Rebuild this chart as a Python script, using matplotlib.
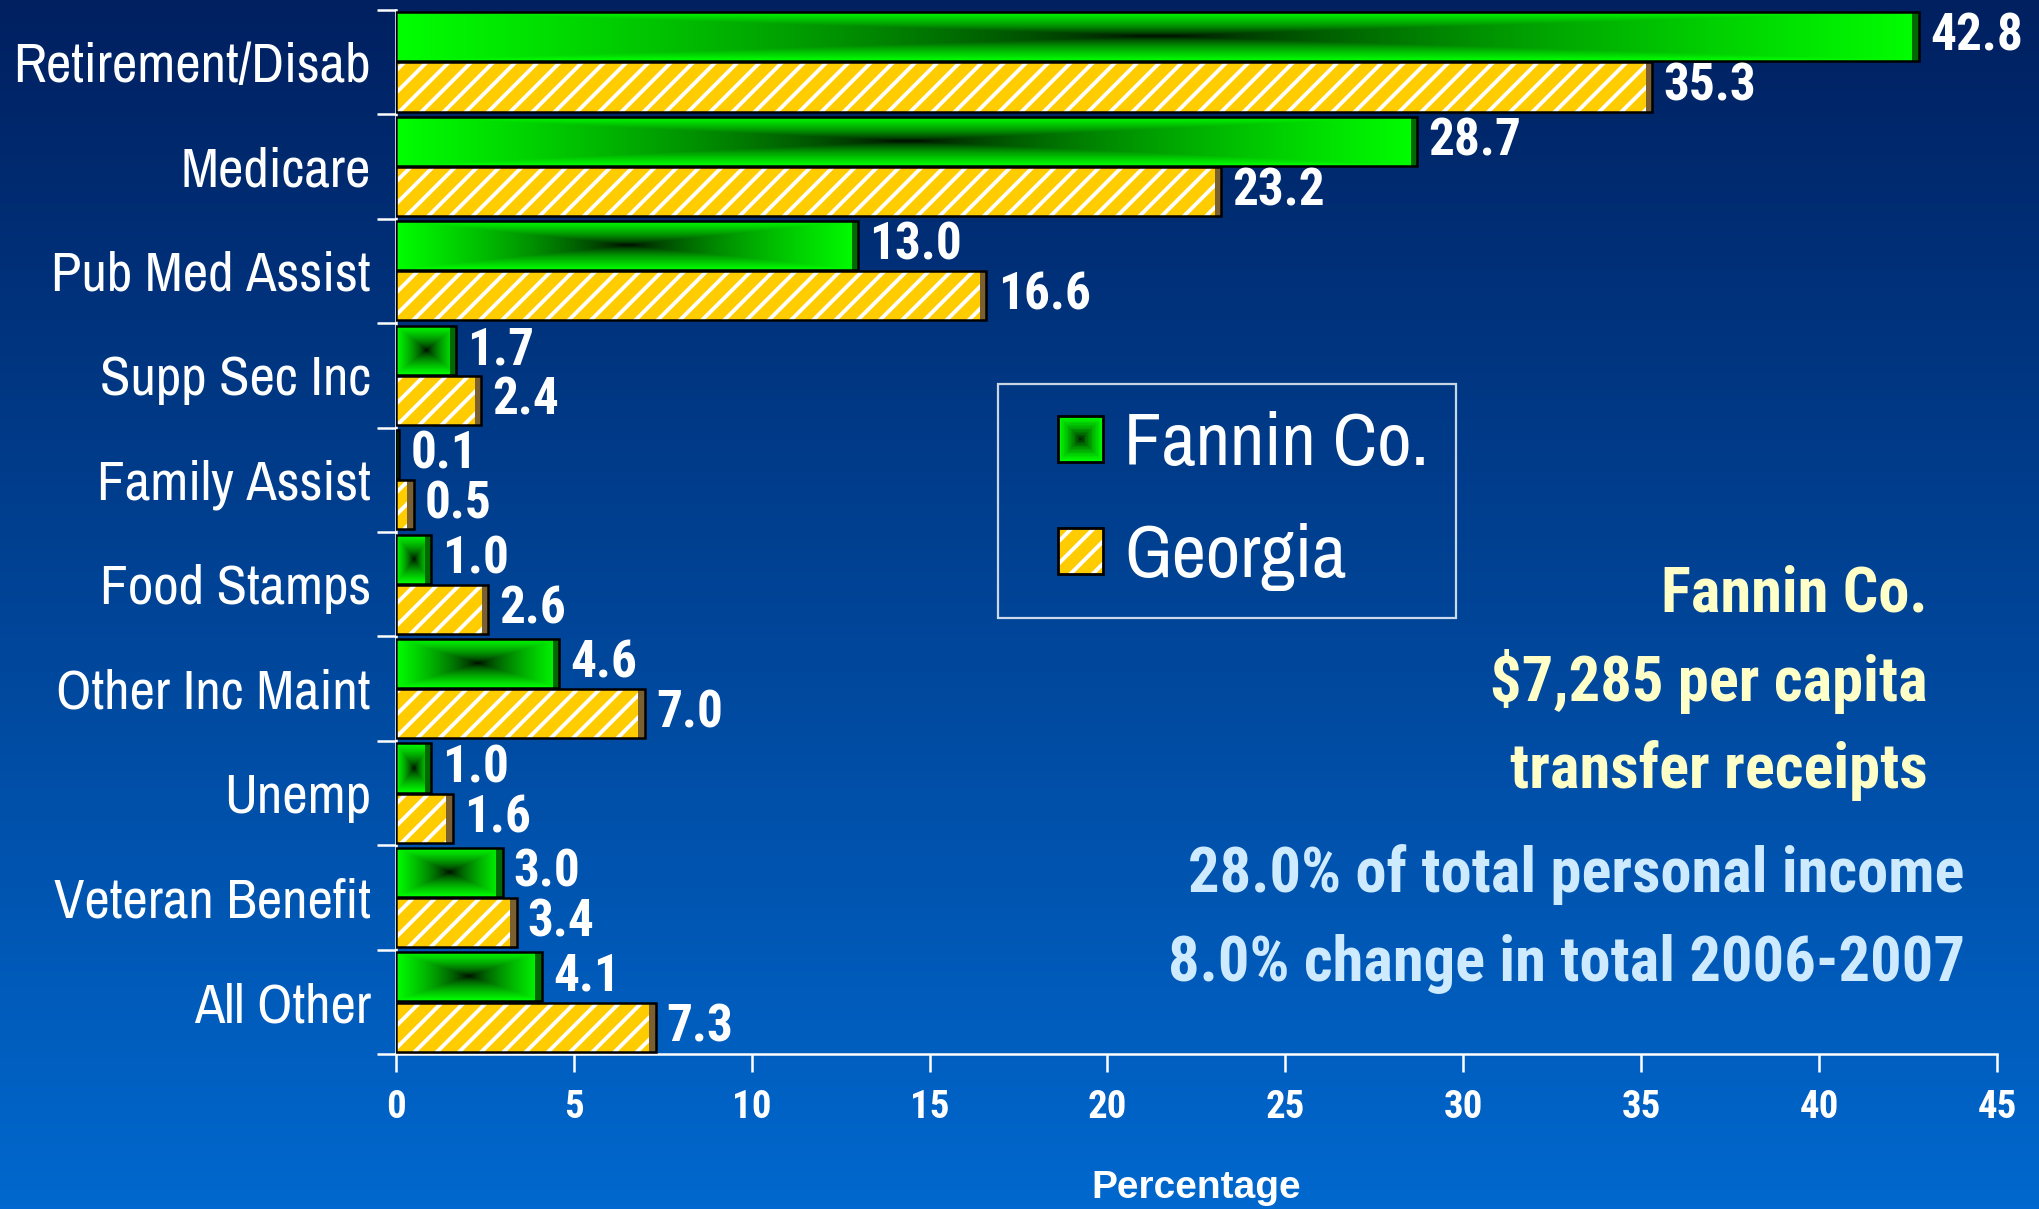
import numpy as np
import matplotlib
matplotlib.use("Agg")
import matplotlib.pyplot as plt
from matplotlib import font_manager as fm
from matplotlib.patches import Rectangle, Patch
from matplotlib.legend_handler import HandlerBase

# data
categories = ['Retirement/Disab', 'Medicare', 'Pub Med Assist', 'Supp Sec Inc',
              'Family Assist', 'Food Stamps', 'Other Inc Maint', 'Unemp',
              'Veteran Benefit', 'All Other']
fannin = [42.8, 28.7, 13.0, 1.7, 0.1, 1.0, 4.6, 1.0, 3.0, 4.1]
georgia = [35.3, 23.2, 16.6, 2.4, 0.5, 2.6, 7.0, 1.6, 3.4, 7.3]
series_names = ['Fannin Co.', 'Georgia']
xticks = [0, 5, 10, 15, 20, 25, 30, 35, 40, 45]

NARROW_CANDS = ['Liberation Sans Narrow', 'Arial Narrow', 'Archivo Narrow',
                'Roboto Condensed', 'PT Sans Narrow', 'IBM Plex Sans Condensed',
                'Open Sans Condensed']


def is_bold(w):
    if isinstance(w, str):
        return w in ('bold', 'heavy', 'black', 'extra bold', 'demibold')
    return w >= 700


def pick(cands, bold=False):
    for c in cands:
        ws = [f.weight for f in fm.fontManager.ttflist if f.name == c]
        if ws and (not bold or any(is_bold(w) for w in ws)):
            return [c, 'DejaVu Sans']
    return ['DejaVu Sans']


NARROW = pick(NARROW_CANDS)
NARROW_B = pick(NARROW_CANDS, bold=True)
WIDE_B = pick(['Liberation Sans', 'Arimo', 'Arial'], bold=True)
GOLD = '#ffcc00'
plt.rcParams['hatch.linewidth'] = 1.4


def rect_gradient(nx, ny):
    u = np.abs(np.linspace(-1, 1, nx))
    v = np.abs(np.linspace(-1, 1, ny))
    t = np.maximum(u[None, :], v[:, None]) ** 0.65
    img = np.zeros((ny, nx, 3))
    img[..., 1] = t
    return img


class SwatchHandler(HandlerBase):
    def create_artists(self, legend, orig_handle, xdescent, ydescent,
                       width, height, fontsize, trans):
        s = height
        x0, y0 = -xdescent + width - s, -ydescent
        arts = []
        if orig_handle.get_label() == 'green':
            steps = 16
            for k in range(steps):
                f = 1 - k / steps
                d = s * (1 - f) / 2
                arts.append(Rectangle((x0 + d, y0 + d), s * f, s * f,
                                      facecolor=(0, f ** 0.65, 0), lw=0,
                                      transform=trans))
        else:
            arts.append(Rectangle((x0, y0), s, s, facecolor=GOLD,
                                  edgecolor='white', hatch='///', lw=0,
                                  transform=trans))
        arts.append(Rectangle((x0, y0), s, s, facecolor='none',
                              edgecolor='black', lw=1.0, transform=trans))
        return arts


fig = plt.figure(figsize=(10.2, 6.045), dpi=200)

# background gradient
bg = fig.add_axes([0, 0, 1, 1], zorder=-10)
grad = np.linspace(0, 1, 256)[:, None, None]
top = np.array([0, 32, 96]) / 255
bot = np.array([0, 104, 206]) / 255
bg.imshow(top + (bot - top) * grad, aspect='auto', extent=[0, 1, 0, 1])
bg.axis('off')

ax = fig.add_axes([0.194, 0.128, 0.785, 0.864])
ax.patch.set_alpha(0)

n = len(categories)
ypos = np.arange(n)[::-1]
h = 0.47
off = 0.24
depth = 0.18

# Fannin bars: gradient image clipped into each bar
gbars = ax.barh(ypos + off, fannin, height=h, facecolor='none',
                edgecolor='black', lw=0.9, zorder=4)
for rect in gbars:
    x, y = rect.get_x(), rect.get_y()
    w, hh = rect.get_width(), rect.get_height()
    im = ax.imshow(rect_gradient(300, 40), extent=[x, x + w, y, y + hh],
                   aspect='auto', zorder=2, interpolation='bilinear')
    im.set_clip_path(rect)
fd = np.minimum(depth, fannin)
ax.barh(ypos + off, fd, left=np.array(fannin) - fd,
        height=h, color='#006a00', lw=0, zorder=3)

# Georgia bars: gold with white hatch
ax.barh(ypos - off, georgia, height=h, facecolor=GOLD, edgecolor='white',
        hatch='///', lw=0, zorder=2)
gd = np.minimum(depth, georgia)
ax.barh(ypos - off, gd, left=np.array(georgia) - gd,
        height=h, color='#7a6030', lw=0, zorder=3)
ax.barh(ypos - off, georgia, height=h, facecolor='none', edgecolor='black',
        lw=0.9, zorder=4)

for vals, dy in ((fannin, off), (georgia, -off)):
    for v, y in zip(vals, ypos):
        ax.annotate(f'{v:.1f}', xy=(v, y + dy), xytext=(4, 0),
                    textcoords='offset points', va='center', ha='left',
                    color='white', fontsize=18.5, fontweight='bold',
                    family=NARROW_B, zorder=5)

ax.set_xlim(0, 45)
ax.set_ylim(-0.5, n - 0.5)

# axes styling
for s in ('top', 'right'):
    ax.spines[s].set_visible(False)
for s in ('left', 'bottom'):
    ax.spines[s].set_color('white')
    ax.spines[s].set_linewidth(0.9)

ax.set_yticks(np.arange(-0.5, n, 1))
ax.set_yticklabels([])
ax.set_yticks(ypos, categories, minor=True)
ax.tick_params(axis='y', which='major', direction='out', length=7,
               width=0.9, color='white')
ax.tick_params(axis='y', which='minor', length=0, pad=9, labelcolor='white',
               labelsize=20)
for lab in ax.get_yticklabels(minor=True):
    lab.set_family(NARROW)

ax.set_xticks(xticks)
ax.tick_params(axis='x', direction='out', length=6.5, width=0.9,
               color='white', labelcolor='white', labelsize=14, pad=6)
for lab in ax.get_xticklabels():
    lab.set_family(NARROW_B)
    lab.set_fontweight('bold')
ax.set_xlabel('Percentage', color='white', fontsize=14, fontweight='bold',
              family=WIDE_B, labelpad=16)

# legend
handles = [Patch(label='green'), Patch(label='gold')]
leg = fig.legend(handles, series_names, loc='upper left',
                 bbox_to_anchor=(0.489, 0.682), bbox_transform=fig.transFigure,
                 borderaxespad=0, fancybox=False, frameon=True,
                 handler_map={Patch: SwatchHandler()},
                 prop={'family': NARROW, 'size': 27},
                 labelcolor='white', handlelength=1.05, handleheight=0.55,
                 handletextpad=0.28, labelspacing=0.6, borderpad=0.36)
leg.get_frame().set_facecolor('none')
leg.get_frame().set_edgecolor('white')
leg.get_frame().set_linewidth(0.8)

# annotation text
yel = '#ffffc8'
blu = '#cdeaff'
note_kw = dict(ha='right', va='center', fontsize=22.5, fontweight='bold',
               family=NARROW_B)
fig.text(0.945, 0.508, 'Fannin Co.', color=yel, **note_kw)
fig.text(0.945, 0.436, '$7,285 per capita', color=yel, **note_kw)
fig.text(0.945, 0.363, 'transfer receipts', color=yel, **note_kw)
fig.text(0.963, 0.277, '28.0% of total personal income', color=blu, **note_kw)
fig.text(0.963, 0.203, '8.0% change in total 2006-2007', color=blu, **note_kw)

fig.savefig('out.png', dpi=200)
